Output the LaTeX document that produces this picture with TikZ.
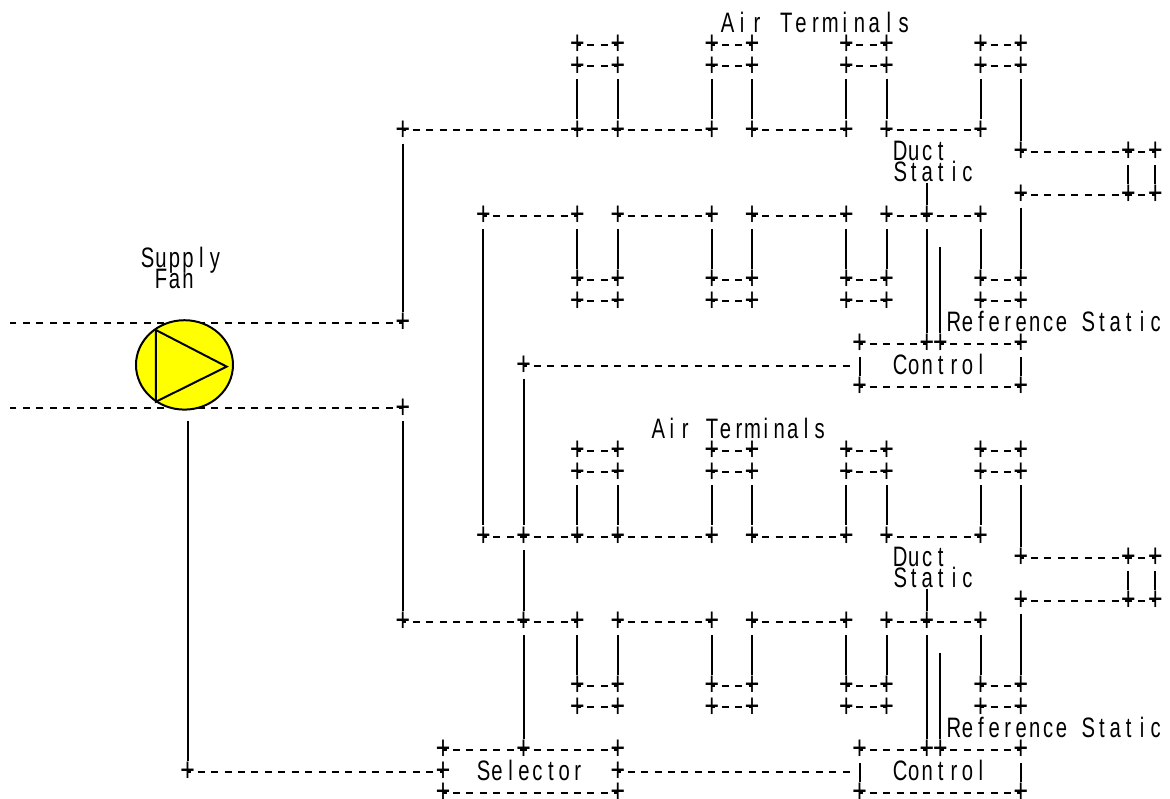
\documentclass[tikz,border=0pt]{standalone}
\usepackage{fontspec}
\usetikzlibrary{shapes.geometric}
\newfontfamily\plusfont[FakeStretch=0.74]{Liberation Mono}
\newfontfamily\asciifont[FakeStretch=0.72]{Liberation Sans}
\definecolor{fanyellow}{RGB}{255,255,0}
% Every letter sits centred in its own character cell
\newlength\cellw
\setlength\cellw{0.336cm}
\makeatletter
\newcommand{\cellword}[1]{\@tfor\ch:=#1\do{\makebox[\cellw][c]{\ch}}}
\makeatother
\newcommand{\cellgap}{\makebox[\cellw]{\ }}
\begin{document}
\begin{tikzpicture}[
    x=0.336cm, y=-0.53425cm,
    plusnode/.style={inner sep=0pt, font=\fontsize{24}{24}\plusfont},
    lbl/.style={anchor=base west, inner sep=0pt, font=\fontsize{20}{20}\asciifont},
    dashln/.style={line width=1.42pt, dash pattern=on 0.175cm off 0.161cm, dash phase=0.0875cm},
    vertln/.style={line width=1.42pt, shorten <=0.075cm, shorten >=0.025cm},
    fanln/.style={line width=1.42pt},
  ]
    % Grid: one unit is one character cell, (column, row)
    \useasboundingbox (-0.967,-0.106) rectangle (86.09,37.24);

    % === The two air handling units, 19 rows apart ===
    \foreach \ofs in {0,19} {
      % Terminal boxes
      \foreach \r/\dr in {a/2, b/3, g/13, h/14} {
        \foreach \c in {42,45,52,55,62,65,72,75} {
          \node[plusnode] (u\ofs\r\c) at (\c, \ofs+\dr) {+};
        }
        \foreach \ca/\cb in {42/45, 52/55, 62/65, 72/75} {
          \draw[dashln] (u\ofs\r\ca.center) -- (u\ofs\r\cb.center);
        }
      }
      % Main ducts
      \foreach \c in {42,45,52,55,62,65,72} {
        \node[plusnode] (u\ofs c\c) at (\c, \ofs+6) {+};
        \node[plusnode] (u\ofs f\c) at (\c, \ofs+10) {+};
        \draw[vertln] (u\ofs b\c) -- (u\ofs c\c);
        \draw[vertln] (u\ofs f\c) -- (u\ofs g\c);
      }
      \node[plusnode] (u\ofs f68) at (68, \ofs+10) {+};
      \foreach \ca/\cb in {c42/c45, c45/c52, c55/c62, c65/c72, f45/f52, f55/f62, f65/f68, f68/f72} {
        \draw[dashln] (u\ofs\ca.center) -- (u\ofs\cb.center);
      }
      % End branch
      \foreach \r/\dr in {d/7, e/9} {
        \foreach \c in {75,83,85} {
          \node[plusnode] (u\ofs\r\c) at (\c, \ofs+\dr) {+};
        }
        \draw[dashln] (u\ofs\r75.center) -- (u\ofs\r83.center);
        \draw[dashln] (u\ofs\r83.center) -- (u\ofs\r85.center);
      }
      \draw[vertln] (u\ofs b75) -- (u\ofs d75);
      \draw[vertln] (u\ofs e75) -- (u\ofs g75);
      \draw[vertln] (u\ofs d83) -- (u\ofs e83);
      \draw[vertln] (u\ofs d85) -- (u\ofs e85);

      % Control box
      \foreach \c in {63,68,69,75} {
        \node[plusnode] (u\ofs i\c) at (\c, \ofs+16) {+};
      }
      \node[plusnode] (u\ofs j63) at (63, \ofs+18) {+};
      \node[plusnode] (u\ofs j75) at (75, \ofs+18) {+};
      \draw[dashln] (u\ofs i63.center) -- (u\ofs i68.center);
      \draw[dashln] (u\ofs i69.center) -- (u\ofs i75.center);
      \draw[dashln] (u\ofs j63.center) -- (u\ofs j75.center);
      \draw[vertln] (u\ofs i63) -- (u\ofs j63);
      \draw[vertln] (u\ofs i75) -- (u\ofs j75);

      % Static pressure lines
      \coordinate (duct\ofs) at (68, \ofs+8.3);
      \coordinate (refs\ofs) at (69, \ofs+11.3);
      \draw[vertln] (duct\ofs) -- (u\ofs f68);
      \draw[vertln] (u\ofs f68) -- (u\ofs i68);
      \draw[vertln] (refs\ofs) -- (u\ofs i69);

      % Labels
      \node[lbl] (duct\ofs a) at (65.5, \ofs+7.4) {\cellword{Duct}};
      \node[lbl] (duct\ofs b) at (65.5, \ofs+8.4) {\cellword{Static}};
      \node[lbl] (refs\ofs a) at (69.5, \ofs+15.4) {\cellword{Reference}\cellgap\cellword{Static}};
      \node[lbl] (ctrl\ofs) at (65.5, \ofs+17.4) {\cellword{Control}};
      \coordinate (ctin\ofs) at (62.26, \ofs+17);
    }

    % === Supply duct connections ===
    \node[plusnode] (top29) at (29, 6) {+};
    \node[plusnode] (top35) at (35, 10) {+};
    \node[plusnode] (fan29a) at (29, 15) {+};
    \node[plusnode] (sel38a) at (38, 17) {+};
    \node[plusnode] (fan29b) at (29, 19) {+};
    \node[plusnode] (bot35) at (35, 25) {+};
    \node[plusnode] (bot38a) at (38, 25) {+};
    \node[plusnode] (bot29) at (29, 29) {+};
    \node[plusnode] (bot38b) at (38, 29) {+};

    \draw[dashln] (top29.center) -- (u0c42.center);
    \draw[dashln] (top35.center) -- (u0f42.center);
    \draw[dashln] (bot35.center) -- (bot38a.center);
    \draw[dashln] (bot38a.center) -- (u19c42.center);
    \draw[dashln] (bot29.center) -- (bot38b.center);
    \draw[dashln] (bot38b.center) -- (u19f42.center);
    \draw[vertln] (top29) -- (fan29a);
    \draw[vertln] (fan29b) -- (bot29);
    \draw[vertln] (top35) -- (bot35);

    % Fan inlet and outlet
    \coordinate (edgea) at (-0.26, 15);
    \coordinate (edgeb) at (-0.26, 19);
    \draw[dashln] (fan29a.center) -- (edgea);
    \draw[dashln] (fan29b.center) -- (edgeb);

    % === Selector ===
    \node[plusnode] (sela) at (32, 35) {+};
    \node[plusnode] (selb) at (38, 35) {+};
    \node[plusnode] (selc) at (45, 35) {+};
    \node[plusnode] (seld) at (13, 36) {+};
    \node[plusnode] (sele) at (32, 36) {+};
    \node[plusnode] (self) at (45, 36) {+};
    \node[plusnode] (selg) at (32, 37) {+};
    \node[plusnode] (selh) at (45, 37) {+};
    \node[lbl] (seltxt) at (34.5, 36.4) {\cellword{Selector}};
    \draw[dashln] (sela.center) -- (selb.center);
    \draw[dashln] (selb.center) -- (selc.center);
    \draw[dashln] (selg.center) -- (selh.center);
    \draw[dashln] (seld.center) -- (sele.center);
    \draw[dashln] (self.center) -- (ctin19);
    \draw[dashln] (sel38a.center) -- (ctin0);
    \draw[vertln] (sel38a) -- (bot38a);
    \draw[vertln] (bot38a) -- (bot38b);
    \draw[vertln] (bot38b) -- (selb);

    % === Supply fan ===
    \coordinate (fanout) at (13, 19.45);
    \draw[vertln] (fanout) -- (seld);
    \node[draw, ellipse, fill=fanyellow, line width=1.42pt, minimum width=2.425cm, minimum height=2.235cm, inner sep=0pt] (fan) at (12.76, 16.97) {};
    \draw[fanln] (10.64,15.34) -- (10.64,18.69) -- (15.9,17.05) -- cycle;
    \node[lbl] (fanlbla) at (9.5, 12.4) {\cellword{Supply}};
    \node[lbl] (fanlblb) at (10.5, 13.4) {\cellword{Fan}};

    % === Air Terminals labels ===
    \node[lbl] (airtop) at (52.6, 1.4) {\setlength\cellw{0.3668cm}\cellword{Air}\cellgap\cellword{Terminals}};
    \node[lbl] (airbot) at (47.5, 20.4) {\cellword{Air}\cellgap\cellword{Terminals}};
  \end{tikzpicture}
\end{document}
